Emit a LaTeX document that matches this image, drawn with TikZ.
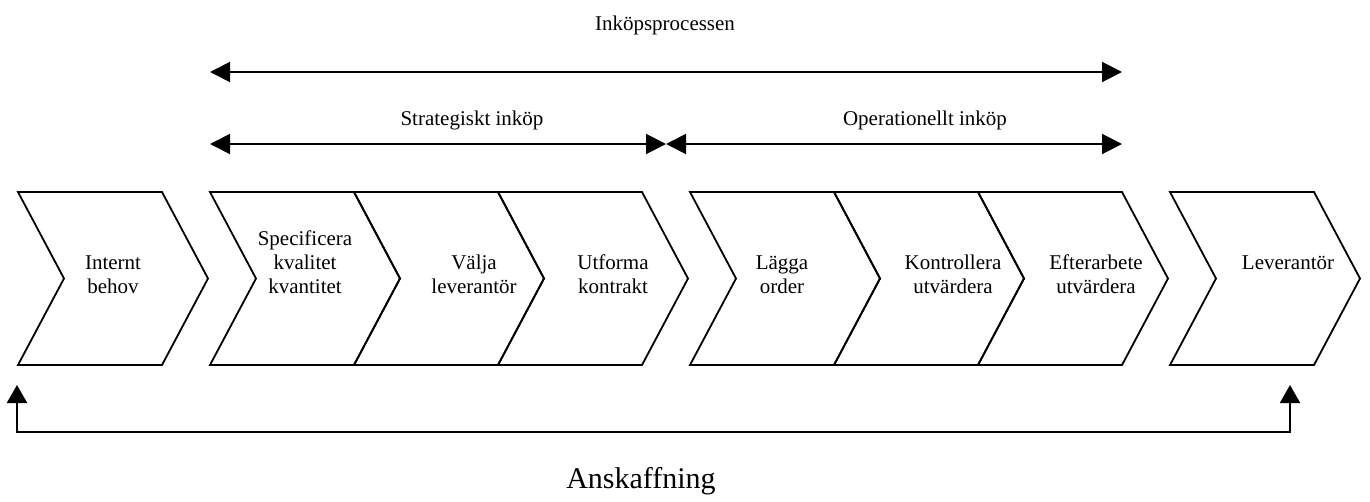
\documentclass[tikz,border=0pt]{standalone}
\usepackage{fontspec}
\setmainfont{Liberation Serif}
\usetikzlibrary{arrows.meta}
\tikzset{
  chevline/.style={draw=black, line width=1.8pt, line join=miter},
  chevron/.pic={\path[chevline] (0,0) -- (144,0) -- (190,86.5) -- (144,173) -- (0,173) -- (46,86.5) -- cycle;},
  lbl/.style={anchor=base, align=center, inner sep=0pt, font=\fontsize{21}{24}\selectfont},
  span/.style={line width=2pt, {Triangle[length=20pt,width=20pt]}-{Triangle[length=20pt,width=20pt]}},
  loop/.style={line width=2pt, {Triangle[length=18pt,width=20pt]}-{Triangle[length=18pt,width=20pt]}}
}
\begin{document}
\begin{tikzpicture}[x=1pt,y=-1pt]
\useasboundingbox (0,0) rectangle (1370,501);
% chevrons
\foreach \l in {18,210,354,498,690,834,978,1170}
  \pic at (\l,192) {chevron};
% chevron labels (anchor = baseline of last line)
\node[lbl] (c1) at (113,293) {Internt\\behov};
\node[lbl] (c2) at (305,293) {Specificera\\kvalitet\\kvantitet};
\node[lbl] (c3) at (474,293) {Välja\\leverantör};
\node[lbl] (c4) at (613,293) {Utforma\\kontrakt};
\node[lbl] (c5) at (782,293) {Lägga\\order};
\node[lbl] (c6) at (953,293) {Kontrollera\\utvärdera};
\node[lbl] (c7) at (1096,293) {Efterarbete\\utvärdera};
\node[lbl] (c8) at (1288,269) {Leverantör};
% top labels
\node[lbl] (tp) at (665,30) {Inköpsprocessen};
\node[lbl] (ts) at (472,125) {Strategiskt inköp};
\node[lbl] (to) at (925,125) {Operationellt inköp};
\node[lbl, font=\fontsize{30}{36}\selectfont] (ta) at (641,488) {Anskaffning};
% arrow end points
\coordinate (pA) at (210,72);
\coordinate (pB) at (1122,72);
\coordinate (sA) at (210,144);
\coordinate (sM) at (666,144);
\coordinate (sB) at (1122,144);
\coordinate (bL) at (17,385);
\coordinate (bLc) at (17,432);
\coordinate (bRc) at (1290,432);
\coordinate (bR) at (1290,385);
\draw[span] (pA) -- (pB);
\draw[span] (sA) -- (sM);
\draw[span] (sM) -- (sB);
\draw[loop] (bL) -- (bLc) -- (bRc) -- (bR);
\end{tikzpicture}
\end{document}
